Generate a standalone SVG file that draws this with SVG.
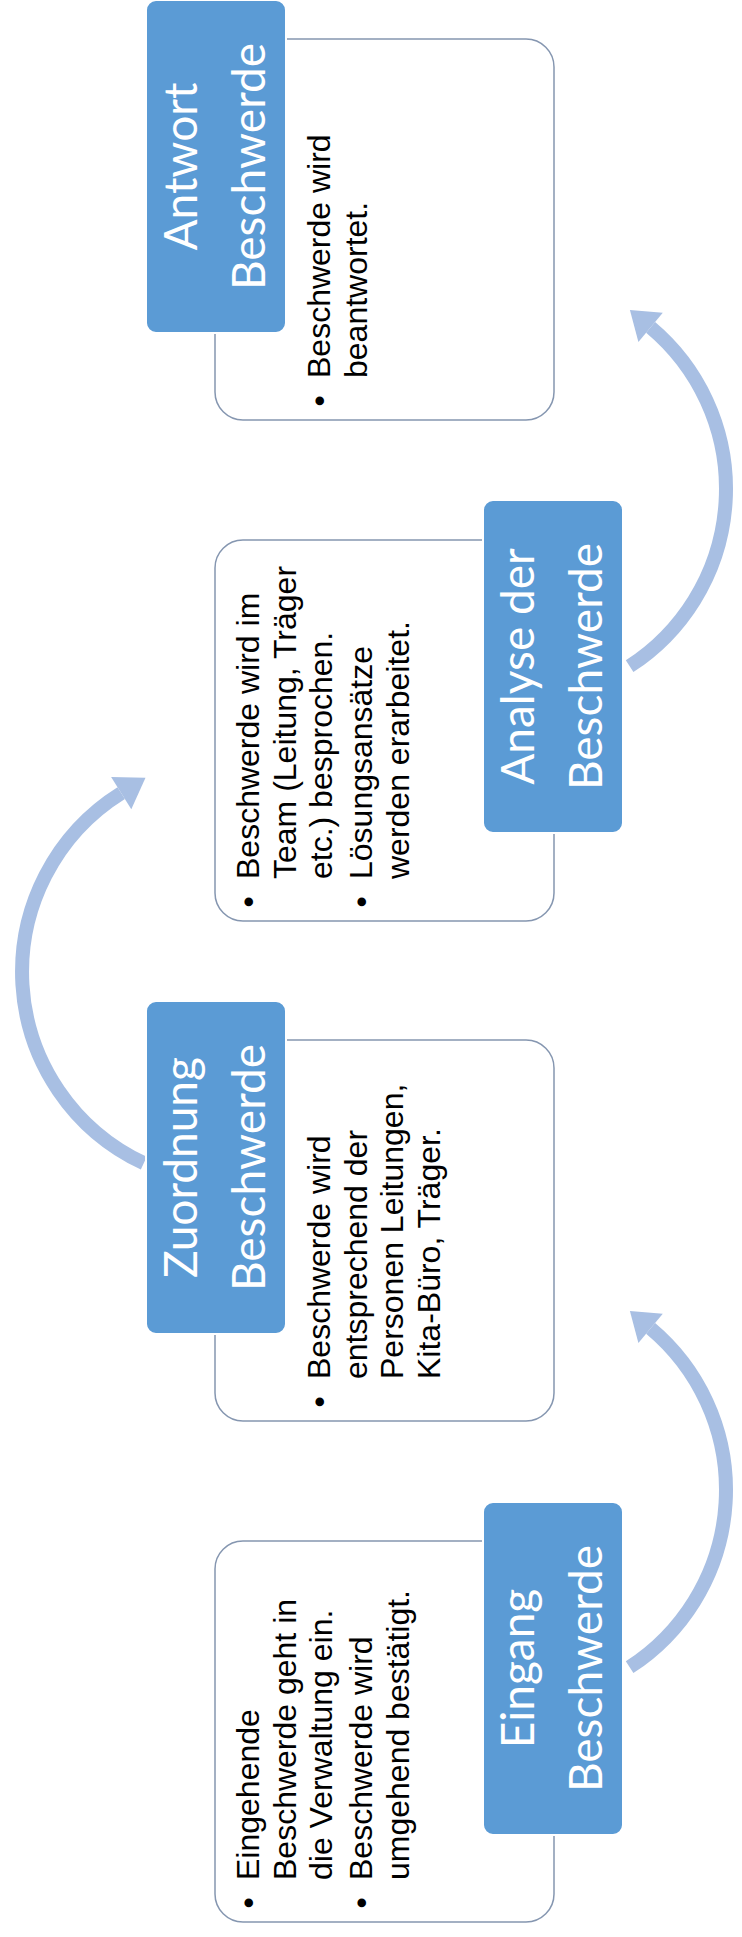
<svg xmlns="http://www.w3.org/2000/svg" width="742" height="1937" viewBox="0 0 742 1937">
<style>
.wb{fill:#fff;stroke:#8596b0;stroke-width:1.5}
.bb{fill:#5b9bd5;stroke:#fff;stroke-width:2}
.bt{font-family:Lato,"Open Sans",sans-serif;font-size:46px;fill:#fff;text-anchor:middle}
.tt{font-family:"Liberation Sans",Arial,sans-serif;font-size:32px;fill:#000}
.bu{font-family:"Liberation Sans",Arial,sans-serif;font-size:32px;fill:#000;text-anchor:middle}
.arc{fill:none;stroke:#a8bfe3;stroke-width:14}
.head{fill:#a8bfe3}
</style>
<rect width="742" height="1937" fill="#fff"/>
<g id="connectors">
  <path class="arc" d="M 629.6 1667.2 A 211 211 0 0 0 650.6 1328.4"/>
  <polygon class="head" points="629.9,1311 662.8,1313.8 638.4,1343"/>
  <path class="arc" d="M 143.8 1163.2 A 211 211 0 0 1 121.2 793.1"/>
  <polygon class="head" points="145.5,777.8 131.3,809.2 111.1,777"/>
  <path class="arc" d="M 629.6 666.2 A 211 211 0 0 0 650.6 327.4"/>
  <polygon class="head" points="629.9,310 662.8,312.8 638.4,342"/>
</g>
<g id="node-eingang">
  <rect class="wb" x="215" y="1541" width="339" height="381" rx="28"/>
  <g transform="translate(215,1922) rotate(-90)">
    <text class="bu" x="19" y="44">•</text>
    <text class="tt" x="42" y="44">Eingehende</text>
    <text class="tt" x="42" y="80.5">Beschwerde geht in</text>
    <text class="tt" x="42" y="117">die Verwaltung ein.</text>
    <text class="bu" x="19" y="157">•</text>
    <text class="tt" x="42" y="157">Beschwerde wird</text>
    <text class="tt" x="42" y="193.5">umgehend bestätigt.</text>
  </g>
  <rect class="bb" x="483" y="1502" width="140" height="333" rx="10"/>
  <g transform="translate(483,1835) rotate(-90)">
    <text class="bt" x="166.5" y="51">Eingang</text>
    <text class="bt" x="166.5" y="119">Beschwerde</text>
  </g>
</g>
<g id="node-zuordnung">
  <rect class="wb" x="215" y="1040" width="339" height="381" rx="28"/>
  <g transform="translate(285,1421) rotate(-90)">
    <text class="bu" x="19" y="45">•</text>
    <text class="tt" x="42" y="45">Beschwerde wird</text>
    <text class="tt" x="42" y="81.5">entsprechend der</text>
    <text class="tt" x="42" y="118">Personen Leitungen,</text>
    <text class="tt" x="42" y="154.5">Kita-Büro, Träger.</text>
  </g>
  <rect class="bb" x="146" y="1001" width="140" height="333" rx="10"/>
  <g transform="translate(146,1334) rotate(-90)">
    <text class="bt" x="166.5" y="51">Zuordnung</text>
    <text class="bt" x="166.5" y="119">Beschwerde</text>
  </g>
</g>
<g id="node-analyse">
  <rect class="wb" x="215" y="540" width="339" height="381" rx="28"/>
  <g transform="translate(215,921) rotate(-90)">
    <text class="bu" x="19" y="44">•</text>
    <text class="tt" x="42" y="44">Beschwerde wird im</text>
    <text class="tt" x="42" y="80.5">Team (Leitung, Träger</text>
    <text class="tt" x="42" y="117">etc.) besprochen.</text>
    <text class="bu" x="19" y="157">•</text>
    <text class="tt" x="42" y="157">Lösungsansätze</text>
    <text class="tt" x="42" y="193.5">werden erarbeitet.</text>
  </g>
  <rect class="bb" x="483" y="500" width="140" height="333" rx="10"/>
  <g transform="translate(483,833) rotate(-90)">
    <text class="bt" x="166.5" y="51">Analyse der</text>
    <text class="bt" x="166.5" y="119">Beschwerde</text>
  </g>
</g>
<g id="node-antwort">
  <rect class="wb" x="215" y="39" width="339" height="381" rx="28"/>
  <g transform="translate(285,420) rotate(-90)">
    <text class="bu" x="19" y="45">•</text>
    <text class="tt" x="42" y="45">Beschwerde wird</text>
    <text class="tt" x="42" y="81.5">beantwortet.</text>
  </g>
  <rect class="bb" x="146" y="0" width="140" height="333" rx="10"/>
  <g transform="translate(146,333) rotate(-90)">
    <text class="bt" x="166.5" y="51">Antwort</text>
    <text class="bt" x="166.5" y="119">Beschwerde</text>
  </g>
</g>
</svg>
